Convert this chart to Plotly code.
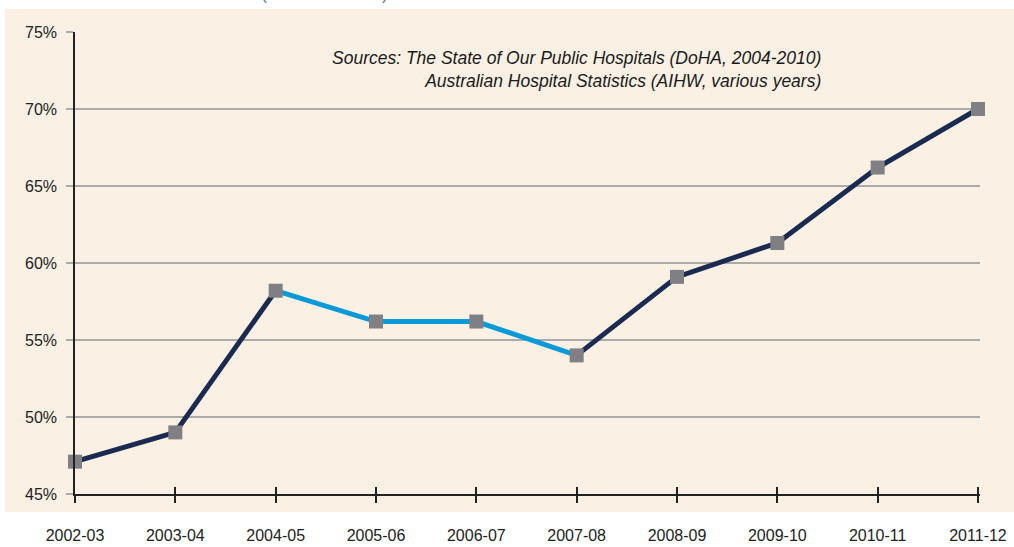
import plotly.graph_objects as go

years = ["2002-03", "2003-04", "2004-05", "2005-06", "2006-07",
         "2007-08", "2008-09", "2009-10", "2010-11", "2011-12"]
values = [47.1, 49.0, 58.2, 56.2, 56.2, 54.0, 59.1, 61.3, 66.2, 70.0]
highlight_start, highlight_end = 2, 5  # segment drawn in light blue
y_ticks = [45, 50, 55, 60, 65, 70, 75]
y_tick_labels = ["45%", "50%", "55%", "60%", "65%", "70%", "75%"]
source_text = ("<i>Sources: The State of Our Public Hospitals (DoHA, 2004-2010)<br>"
               "Australian Hospital Statistics (AIHW, various years)</i>")

NAVY = "#1B2A50"
BLUE = "#0A9AD8"
MARK = "#808084"
CREAM = "#FAF1E4"
FONT = "Liberation Sans Narrow, Arial Narrow, Liberation Sans, Arial, sans-serif"

W, H = 1014, 547
L, R, T, B = 75, 34, 32, 53
pw, ph = W - L - R, H - T - B

fig = go.Figure()
segments = [(0, highlight_start, NAVY), (highlight_start, highlight_end, BLUE),
            (highlight_end, len(years) - 1, NAVY)]
for a, b, c in segments:
    fig.add_trace(go.Scatter(x=years[a:b + 1], y=values[a:b + 1], mode="lines",
                             line=dict(color=c, width=5), cliponaxis=False,
                             hoverinfo="skip", showlegend=False))
fig.add_trace(go.Scatter(x=years, y=values, mode="markers",
                         marker=dict(symbol="square", size=14, color=MARK),
                         cliponaxis=False, showlegend=False))
# invisible trace for overlaid inner-tick axis
fig.add_trace(go.Scatter(x=years, y=values, xaxis="x2", mode="markers",
                         marker=dict(opacity=0), hoverinfo="skip", showlegend=False))

def px2x(p):
    return (p - L) / pw

def py2y(p):
    return (H - B - p) / ph

fig.add_shape(type="rect", xref="paper", yref="paper",
              x0=px2x(5), x1=px2x(1016), y0=py2y(512), y1=py2y(9),
              fillcolor=CREAM, line=dict(width=0), layer="below")

fig.add_annotation(text=source_text, xref="paper", yref="paper",
                   x=px2x(823), y=py2y(46), xanchor="right", yanchor="top",
                   align="right", showarrow=False,
                   font=dict(family=FONT, size=17.5, color="#1a1a1a"))

# bottoms of a clipped heading above the panel
for ch, xp in (("(", 264), (")", 385)):
    fig.add_annotation(text=ch, xref="paper", yref="paper",
                       x=px2x(xp), y=py2y(5), xanchor="center", yanchor="bottom",
                       showarrow=False,
                       font=dict(family=FONT, size=18, color="#7C7AA3"))

xr = [0, 9.02]
fig.update_layout(
    width=W, height=H,
    margin=dict(l=L, r=R, t=T, b=B, pad=0, autoexpand=False),
    paper_bgcolor="white", plot_bgcolor=CREAM,
    font=dict(family=FONT, size=16, color="#222222"),
    xaxis=dict(type="category", categoryarray=years, range=xr, automargin=False,
               showgrid=False, showline=True, linecolor="#222222", linewidth=1.5,
               ticks="outside", ticklen=7, tickcolor="#222222", tickwidth=1.5,
               ticklabelstandoff=19, zeroline=False,
               tickfont=dict(size=16, family=FONT, color="#222222")),
    xaxis2=dict(type="category", categoryarray=years, range=xr, overlaying="x",
                side="bottom", anchor="y", showgrid=False, showline=False,
                automargin=False,
                ticks="inside", ticklen=7, tickcolor="#222222", tickwidth=1.5,
                showticklabels=False),
    yaxis=dict(range=[45, 75], tickvals=y_ticks, ticktext=y_tick_labels,
               automargin=False,
               showgrid=True, gridcolor="#ABABAB", gridwidth=1.5,
               showline=True, linecolor="#222222", linewidth=1.5,
               ticks="outside", ticklen=7, tickcolor="#ABABAB", tickwidth=1.5,
               ticklabelstandoff=6, zeroline=False,
               tickfont=dict(size=16, family=FONT, color="#222222")),
)

fig.write_html("out.html", config={"displayModeBar": False},
               post_script="document.body.style.margin='0';document.body.style.overflow='hidden';")
